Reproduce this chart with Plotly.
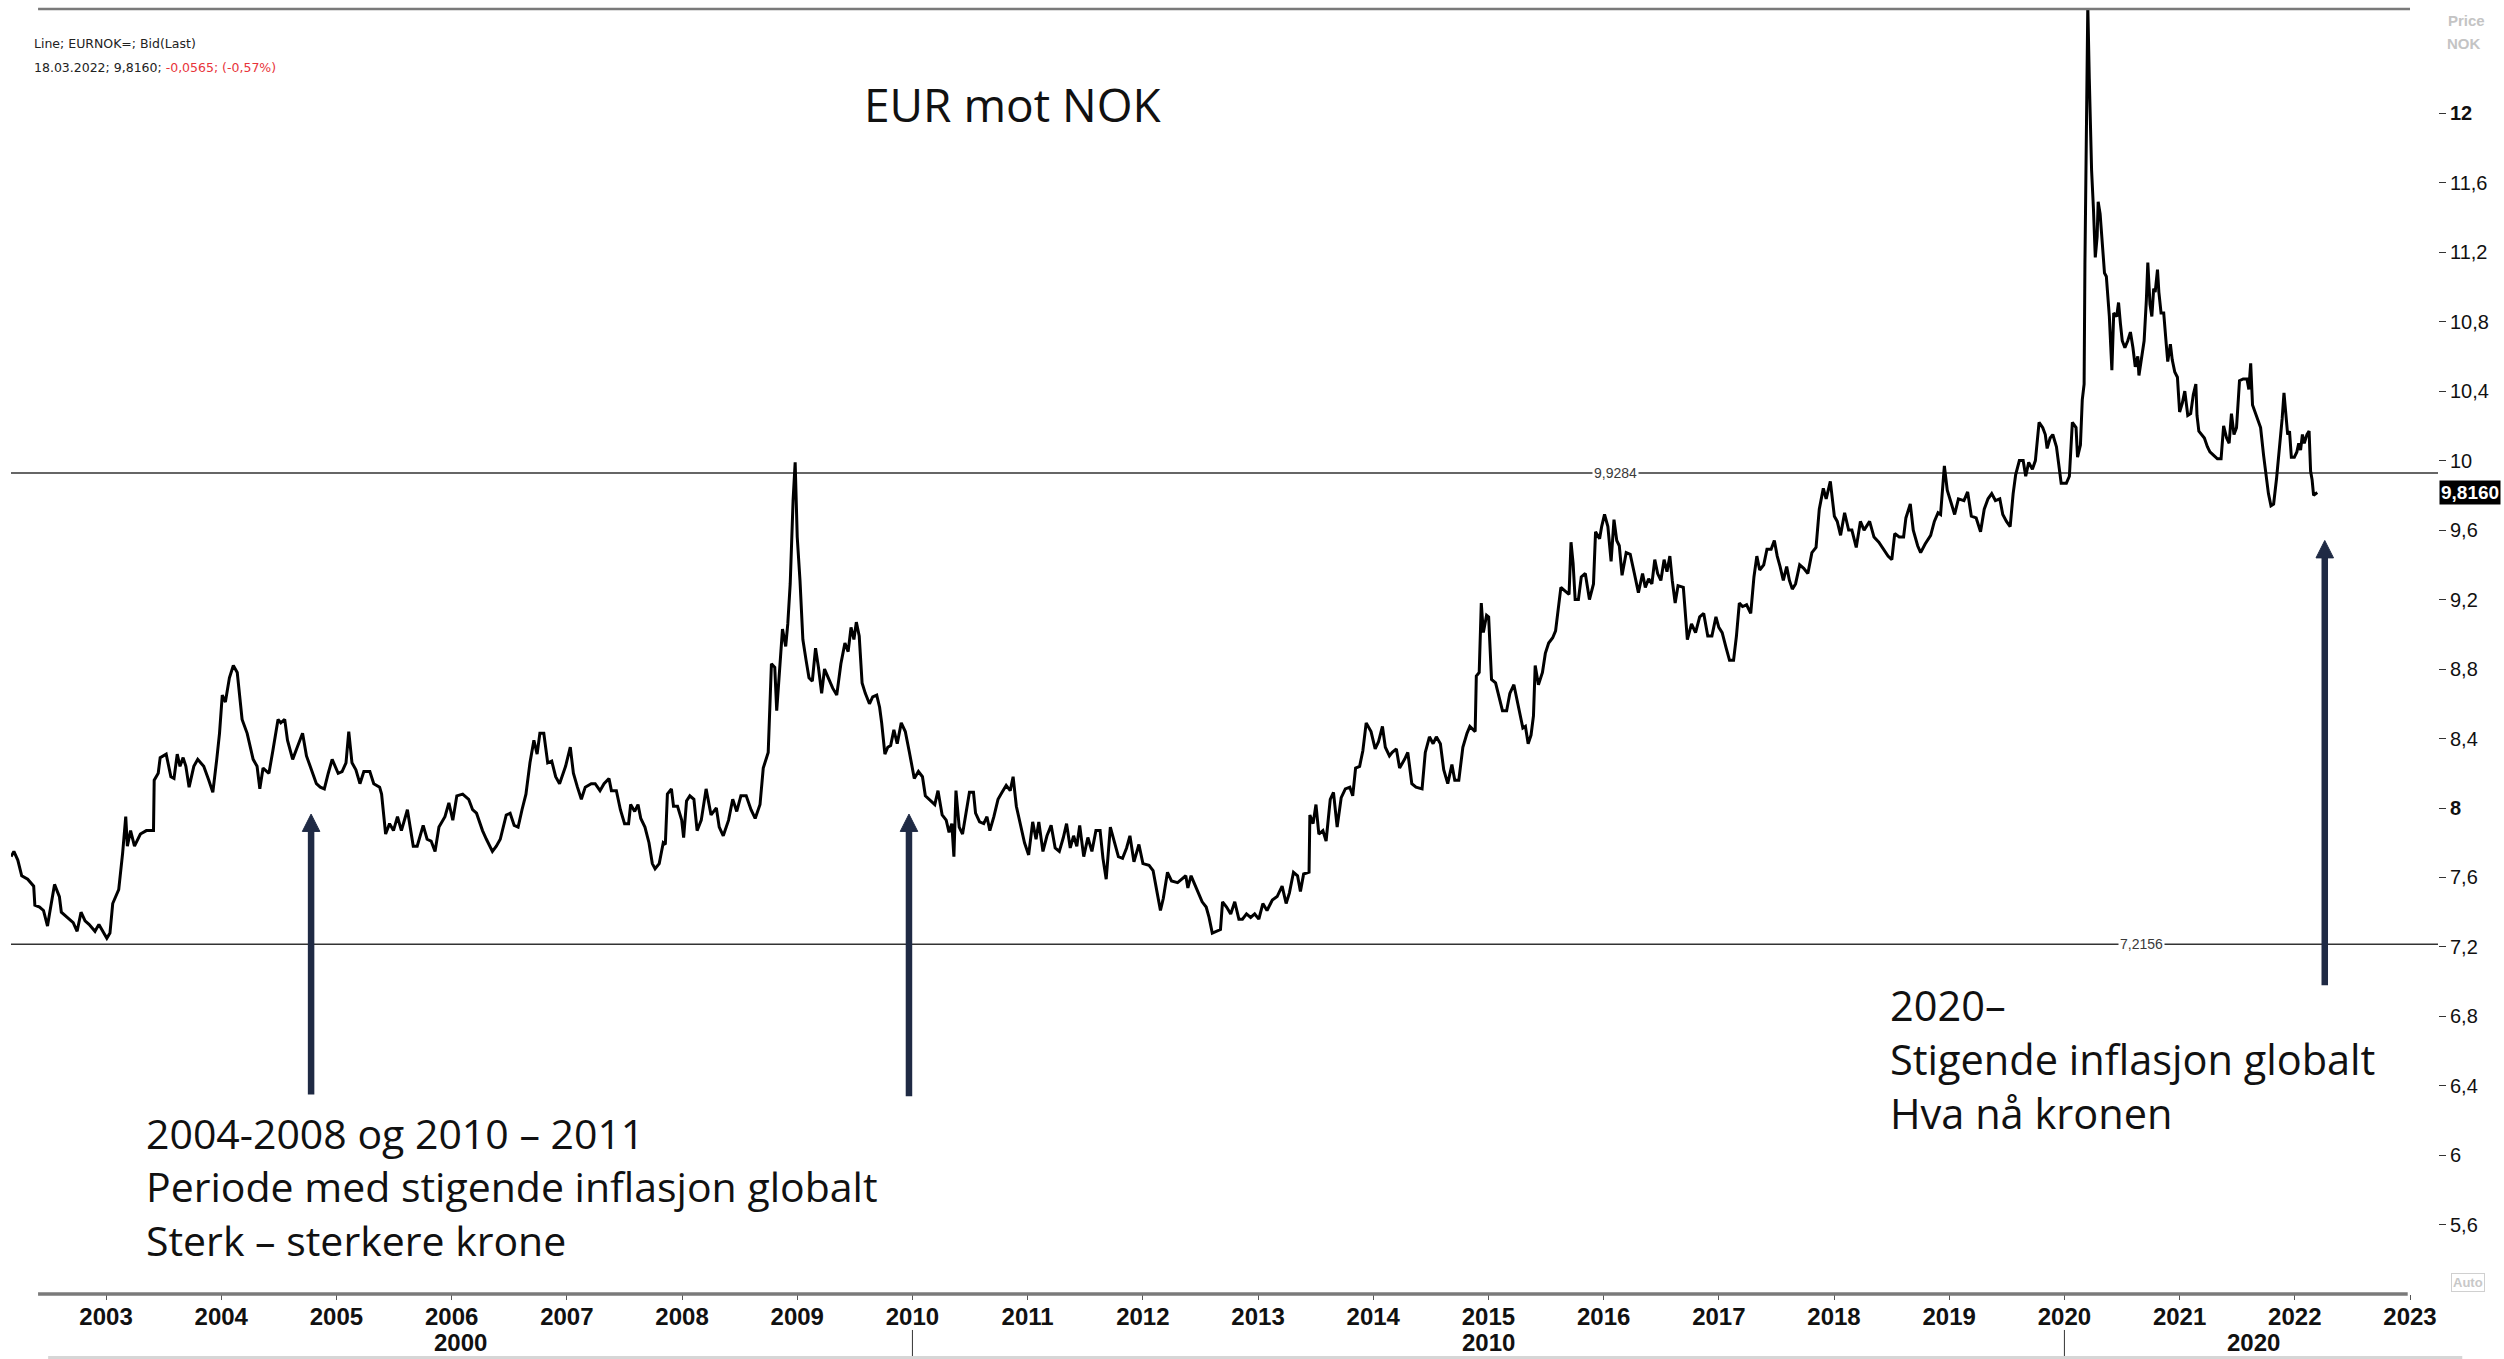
import plotly.graph_objects as go

# ---------------- data (decimal year, EURNOK weekly close) ----------------
t_2002_2007 = [2002.176, 2002.200, 2002.234, 2002.268, 2002.320, 2002.372, 2002.382, 2002.423, 2002.457, 2002.492,
               2002.509, 2002.553, 2002.595, 2002.612, 2002.663, 2002.715, 2002.749, 2002.783, 2002.818, 2002.852,
               2002.904, 2002.938, 2003.007, 2003.034, 2003.058, 2003.110, 2003.144, 2003.171, 2003.185, 2003.213,
               2003.247, 2003.298, 2003.350, 2003.412, 2003.418, 2003.453, 2003.470, 2003.522, 2003.563, 2003.590,
               2003.618, 2003.642, 2003.669, 2003.693, 2003.721, 2003.762, 2003.796, 2003.848, 2003.892, 2003.927,
               2003.961, 2003.985, 2004.009, 2004.036, 2004.071, 2004.105, 2004.139, 2004.181, 2004.225, 2004.277,
               2004.311, 2004.335, 2004.363, 2004.414, 2004.448, 2004.493, 2004.517, 2004.551, 2004.575, 2004.620,
               2004.654, 2004.706, 2004.740, 2004.792, 2004.826, 2004.860, 2004.895, 2004.929, 2004.963, 2005.015,
               2005.049, 2005.083, 2005.107, 2005.135, 2005.169, 2005.204, 2005.238, 2005.290, 2005.324, 2005.375,
               2005.392, 2005.427, 2005.461, 2005.495, 2005.530, 2005.564, 2005.616, 2005.667, 2005.701, 2005.753,
               2005.787, 2005.822, 2005.856, 2005.890, 2005.942, 2005.976, 2006.010, 2006.045, 2006.096, 2006.148,
               2006.182, 2006.216, 2006.268, 2006.302, 2006.354, 2006.388, 2006.422, 2006.474, 2006.508, 2006.543,
               2006.577, 2006.611, 2006.645, 2006.680, 2006.714, 2006.742, 2006.766, 2006.800, 2006.834, 2006.869,
               2006.903, 2006.937, 2006.989, 2007.030, 2007.057, 2007.092, 2007.126, 2007.160, 2007.212, 2007.246]
v_2002_2007 = [7.72, 7.75, 7.70, 7.61, 7.59, 7.55, 7.44, 7.43, 7.41, 7.32,
               7.39, 7.56, 7.49, 7.40, 7.37, 7.34, 7.29, 7.40, 7.35, 7.33,
               7.29, 7.33, 7.25, 7.28, 7.45, 7.53, 7.74, 7.95, 7.78, 7.87,
               7.78, 7.85, 7.87, 7.87, 8.16, 8.20, 8.29, 8.31, 8.18, 8.17,
               8.31, 8.24, 8.29, 8.24, 8.12, 8.24, 8.28, 8.24, 8.16, 8.09,
               8.28, 8.43, 8.65, 8.61, 8.75, 8.82, 8.78, 8.51, 8.43, 8.28,
               8.24, 8.11, 8.23, 8.20, 8.33, 8.51, 8.49, 8.51, 8.39, 8.28,
               8.34, 8.43, 8.30, 8.20, 8.14, 8.12, 8.11, 8.20, 8.28, 8.20,
               8.21, 8.26, 8.44, 8.26, 8.22, 8.14, 8.21, 8.21, 8.14, 8.12,
               8.08, 7.85, 7.91, 7.87, 7.95, 7.87, 7.99, 7.78, 7.78, 7.90,
               7.82, 7.81, 7.75, 7.89, 7.95, 8.03, 7.93, 8.07, 8.08, 8.05,
               7.99, 7.97, 7.87, 7.82, 7.75, 7.78, 7.82, 7.96, 7.97, 7.90,
               7.89, 7.99, 8.08, 8.26, 8.39, 8.31, 8.43, 8.43, 8.26, 8.27,
               8.18, 8.14, 8.24, 8.35, 8.20, 8.12, 8.05, 8.12, 8.14, 8.14]

t_2007_2012 = [2007.288, 2007.323, 2007.366, 2007.387, 2007.430, 2007.465, 2007.501, 2007.536, 2007.554, 2007.589,
               2007.618, 2007.642, 2007.678, 2007.713, 2007.742, 2007.766, 2007.802, 2007.837, 2007.855, 2007.873,
               2007.908, 2007.926, 2007.961, 2007.997, 2008.014, 2008.039, 2008.068, 2008.103, 2008.131, 2008.167,
               2008.209, 2008.252, 2008.298, 2008.323, 2008.358, 2008.404, 2008.440, 2008.475, 2008.511, 2008.557,
               2008.599, 2008.635, 2008.677, 2008.705, 2008.748, 2008.776, 2008.805, 2008.822, 2008.847, 2008.872,
               2008.900, 2008.918, 2008.939, 2008.964, 2008.982, 2009.000, 2009.024, 2009.049, 2009.077, 2009.102,
               2009.131, 2009.159, 2009.184, 2009.212, 2009.237, 2009.272, 2009.308, 2009.343, 2009.379, 2009.414,
               2009.442, 2009.467, 2009.492, 2009.513, 2009.538, 2009.563, 2009.591, 2009.627, 2009.655, 2009.690,
               2009.715, 2009.733, 2009.761, 2009.786, 2009.811, 2009.839, 2009.868, 2009.903, 2009.938, 2009.974,
               2010.016, 2010.052, 2010.087, 2010.112, 2010.158, 2010.194, 2010.222, 2010.258, 2010.293, 2010.318,
               2010.342, 2010.360, 2010.378, 2010.406, 2010.435, 2010.467, 2010.495, 2010.530, 2010.548, 2010.583,
               2010.619, 2010.647, 2010.672, 2010.707, 2010.743, 2010.778, 2010.814, 2010.849, 2010.874, 2010.902,
               2010.938, 2010.973, 2011.009, 2011.044, 2011.073, 2011.097, 2011.133, 2011.168, 2011.204, 2011.239,
               2011.275, 2011.310, 2011.338, 2011.370, 2011.399, 2011.427, 2011.452, 2011.487, 2011.523, 2011.558,
               2011.593, 2011.629, 2011.654, 2011.682, 2011.718, 2011.753, 2011.788, 2011.824, 2011.859, 2011.888,
               2011.923, 2011.966, 2012.001, 2012.054, 2012.089, 2012.125, 2012.153, 2012.178, 2012.214, 2012.249,
               2012.302, 2012.338, 2012.373, 2012.391, 2012.419, 2012.444, 2012.479, 2012.515, 2012.550, 2012.575,
               2012.603, 2012.639, 2012.674, 2012.692, 2012.727, 2012.763, 2012.798, 2012.834]
v_2007_2012 = [8.10, 8.14, 8.17, 8.10, 8.10, 7.99, 7.91, 7.91, 8.02, 7.98,
               8.02, 7.94, 7.89, 7.80, 7.68, 7.65, 7.68, 7.80, 7.79, 8.08,
               8.11, 8.01, 8.01, 7.93, 7.83, 8.04, 8.07, 8.05, 7.87, 7.93,
               8.11, 7.96, 8.00, 7.89, 7.84, 7.93, 8.05, 7.98, 8.07, 8.07,
               7.99, 7.94, 8.02, 8.23, 8.32, 8.83, 8.81, 8.56, 8.78, 9.03,
               8.93, 9.06, 9.29, 9.77, 9.99, 9.56, 9.31, 8.97, 8.85, 8.75,
               8.73, 8.92, 8.81, 8.66, 8.80, 8.74, 8.69, 8.65, 8.83, 8.95,
               8.90, 9.04, 8.97, 9.07, 8.99, 8.72, 8.66, 8.60, 8.64, 8.65,
               8.58, 8.49, 8.31, 8.35, 8.36, 8.45, 8.37, 8.49, 8.44, 8.32,
               8.17, 8.21, 8.18, 8.07, 8.04, 8.02, 8.10, 7.96, 7.93, 7.86,
               7.91, 7.72, 8.10, 7.89, 7.85, 7.97, 8.09, 8.09, 7.97, 7.92,
               7.91, 7.95, 7.87, 7.95, 8.05, 8.09, 8.13, 8.10, 8.18, 8.01,
               7.91, 7.80, 7.73, 7.92, 7.82, 7.92, 7.75, 7.84, 7.90, 7.77,
               7.75, 7.83, 7.91, 7.77, 7.84, 7.78, 7.90, 7.72, 7.83, 7.75,
               7.87, 7.87, 7.71, 7.59, 7.89, 7.80, 7.72, 7.71, 7.77, 7.84,
               7.69, 7.79, 7.68, 7.67, 7.64, 7.51, 7.41, 7.48, 7.63, 7.58,
               7.57, 7.59, 7.61, 7.54, 7.61, 7.57, 7.51, 7.46, 7.43, 7.37,
               7.28, 7.29, 7.30, 7.46, 7.43, 7.39, 7.46, 7.36]

t_2012_2018 = [2012.865, 2012.900, 2012.936, 2012.971, 2013.007, 2013.042, 2013.078, 2013.124, 2013.166, 2013.209,
               2013.244, 2013.272, 2013.308, 2013.343, 2013.368, 2013.396, 2013.443, 2013.450, 2013.478, 2013.503,
               2013.528, 2013.563, 2013.591, 2013.627, 2013.655, 2013.687, 2013.722, 2013.758, 2013.797, 2013.822,
               2013.847, 2013.882, 2013.910, 2013.939, 2013.981, 2014.017, 2014.045, 2014.080, 2014.105, 2014.141,
               2014.165, 2014.201, 2014.229, 2014.272, 2014.300, 2014.335, 2014.371, 2014.424, 2014.452, 2014.488,
               2014.520, 2014.548, 2014.583, 2014.612, 2014.647, 2014.683, 2014.708, 2014.743, 2014.778, 2014.814,
               2014.839, 2014.885, 2014.895, 2014.920, 2014.938, 2014.956, 2014.984, 2015.002, 2015.027, 2015.062,
               2015.097, 2015.122, 2015.158, 2015.186, 2015.221, 2015.250, 2015.275, 2015.299, 2015.321, 2015.345,
               2015.370, 2015.391, 2015.406, 2015.434, 2015.469, 2015.494, 2015.523, 2015.558, 2015.583, 2015.604,
               2015.629, 2015.664, 2015.700, 2015.717, 2015.735, 2015.753, 2015.781, 2015.806, 2015.841, 2015.877,
               2015.912, 2015.930, 2015.965, 2015.983, 2016.008, 2016.037, 2016.065, 2016.090, 2016.114, 2016.136,
               2016.160, 2016.196, 2016.231, 2016.267, 2016.302, 2016.338, 2016.362, 2016.391, 2016.419, 2016.444,
               2016.469, 2016.497, 2016.525, 2016.550, 2016.575, 2016.596, 2016.621, 2016.646, 2016.692, 2016.727,
               2016.763, 2016.798, 2016.834, 2016.869, 2016.904, 2016.940, 2016.975, 2017.000, 2017.029, 2017.064,
               2017.093, 2017.128, 2017.153, 2017.178, 2017.206, 2017.241, 2017.277, 2017.305, 2017.330, 2017.355,
               2017.390, 2017.418, 2017.454, 2017.482, 2017.507, 2017.532, 2017.560, 2017.589, 2017.613, 2017.638,
               2017.666, 2017.702, 2017.737, 2017.773, 2017.808, 2017.844, 2017.872, 2017.907, 2017.932, 2017.968,
               2018.003, 2018.028, 2018.057, 2018.092, 2018.127]
v_2012_2018 = [7.36, 7.39, 7.37, 7.39, 7.36, 7.45, 7.41, 7.47, 7.49, 7.55,
               7.45, 7.51, 7.63, 7.61, 7.52, 7.62, 7.63, 7.96, 7.91, 8.02,
               7.85, 7.87, 7.81, 8.05, 8.09, 7.89, 8.06, 8.11, 8.12, 8.07,
               8.23, 8.24, 8.33, 8.49, 8.44, 8.34, 8.38, 8.47, 8.35, 8.30,
               8.32, 8.34, 8.23, 8.28, 8.32, 8.14, 8.12, 8.11, 8.32, 8.41,
               8.37, 8.41, 8.37, 8.22, 8.14, 8.25, 8.16, 8.16, 8.35, 8.43,
               8.47, 8.44, 8.76, 8.78, 9.18, 9.01, 9.11, 9.10, 8.74, 8.72,
               8.62, 8.56, 8.56, 8.66, 8.71, 8.62, 8.53, 8.46, 8.47, 8.37,
               8.42, 8.53, 8.82, 8.71, 8.78, 8.89, 8.95, 8.98, 9.02, 9.12,
               9.27, 9.25, 9.23, 9.53, 9.41, 9.20, 9.20, 9.33, 9.35, 9.20,
               9.29, 9.59, 9.55, 9.62, 9.69, 9.62, 9.42, 9.66, 9.54, 9.51,
               9.34, 9.47, 9.46, 9.35, 9.24, 9.35, 9.27, 9.32, 9.29, 9.43,
               9.35, 9.31, 9.43, 9.36, 9.45, 9.31, 9.18, 9.28, 9.27, 8.97,
               9.06, 9.01, 9.10, 9.12, 8.99, 8.99, 9.10, 9.04, 9.01, 8.92,
               8.85, 8.85, 8.99, 9.18, 9.16, 9.17, 9.12, 9.33, 9.45, 9.37,
               9.40, 9.49, 9.49, 9.54, 9.45, 9.39, 9.31, 9.39, 9.31, 9.26,
               9.29, 9.40, 9.38, 9.35, 9.47, 9.50, 9.72, 9.84, 9.78, 9.88,
               9.68, 9.65, 9.57, 9.70, 9.60]

t_2018_2022 = [2018.155, 2018.193, 2018.229, 2018.261, 2018.309, 2018.347, 2018.389, 2018.431, 2018.469, 2018.502,
               2018.527, 2018.566, 2018.604, 2018.624, 2018.662, 2018.688, 2018.726, 2018.752, 2018.791, 2018.839,
               2018.871, 2018.903, 2018.925, 2018.958, 2018.983, 2019.015, 2019.047, 2019.080, 2019.128, 2019.160,
               2019.192, 2019.234, 2019.272, 2019.304, 2019.337, 2019.369, 2019.401, 2019.439, 2019.465, 2019.497,
               2019.529, 2019.555, 2019.577, 2019.609, 2019.642, 2019.664, 2019.690, 2019.722, 2019.748, 2019.780,
               2019.812, 2019.834, 2019.850, 2019.876, 2019.899, 2019.931, 2019.953, 2019.972, 2020.017, 2020.043,
               2020.069, 2020.101, 2020.114, 2020.139, 2020.155, 2020.171, 2020.178, 2020.191, 2020.203, 2020.216,
               2020.226, 2020.236, 2020.252, 2020.268, 2020.284, 2020.293, 2020.310, 2020.332, 2020.348, 2020.364,
               2020.390, 2020.412, 2020.428, 2020.454, 2020.470, 2020.486, 2020.502, 2020.525, 2020.550, 2020.573,
               2020.595, 2020.615, 2020.637, 2020.647, 2020.669, 2020.692, 2020.711, 2020.724, 2020.743, 2020.759,
               2020.775, 2020.788, 2020.808, 2020.820, 2020.839, 2020.862, 2020.884, 2020.897, 2020.920, 2020.936,
               2020.958, 2020.981, 2021.000, 2021.023, 2021.045, 2021.071, 2021.096, 2021.119, 2021.141, 2021.151,
               2021.167, 2021.193, 2021.215, 2021.241, 2021.263, 2021.296, 2021.328, 2021.360, 2021.382, 2021.408,
               2021.430, 2021.450, 2021.472, 2021.494, 2021.520, 2021.552, 2021.585, 2021.601, 2021.617, 2021.633,
               2021.655, 2021.681, 2021.703, 2021.729, 2021.745, 2021.771, 2021.793, 2021.816, 2021.842, 2021.867,
               2021.890, 2021.906, 2021.922, 2021.938, 2021.954, 2021.970, 2021.996, 2022.018, 2022.034, 2022.050,
               2022.066, 2022.082, 2022.105, 2022.124, 2022.137, 2022.150, 2022.163, 2022.179, 2022.195]
v_2018_2022 = [9.60, 9.50, 9.65, 9.60, 9.65, 9.56, 9.53, 9.49, 9.45, 9.43,
               9.58, 9.56, 9.56, 9.67, 9.75, 9.60, 9.51, 9.47, 9.52, 9.57,
               9.65, 9.70, 9.69, 9.97, 9.83, 9.76, 9.69, 9.78, 9.77, 9.82,
               9.68, 9.67, 9.59, 9.72, 9.78, 9.81, 9.77, 9.78, 9.69, 9.65,
               9.62, 9.81, 9.92, 10.00, 10.00, 9.91, 9.99, 9.95, 10.00, 10.22,
               10.19, 10.15, 10.07, 10.13, 10.15, 10.08, 9.95, 9.87, 9.87, 9.91,
               10.22, 10.19, 10.02, 10.09, 10.35, 10.44, 11.13, 11.90, 12.62, 12.20,
               11.90, 11.67, 11.45, 11.17, 11.29, 11.49, 11.42, 11.24, 11.08, 11.06,
               10.83, 10.52, 10.85, 10.83, 10.91, 10.79, 10.69, 10.65, 10.69, 10.74,
               10.65, 10.54, 10.60, 10.49, 10.58, 10.69, 10.92, 11.14, 10.90, 10.83,
               10.99, 10.97, 11.10, 10.97, 10.85, 10.85, 10.67, 10.57, 10.67, 10.58,
               10.51, 10.48, 10.28, 10.33, 10.40, 10.26, 10.27, 10.38, 10.44, 10.26,
               10.17, 10.15, 10.13, 10.08, 10.05, 10.03, 10.01, 10.01, 10.20, 10.13,
               10.10, 10.27, 10.15, 10.19, 10.46, 10.47, 10.47, 10.41, 10.56, 10.32,
               10.28, 10.24, 10.19, 10.03, 9.94, 9.81, 9.74, 9.75, 9.90, 10.06,
               10.24, 10.39, 10.24, 10.15, 10.17, 10.02, 10.02, 10.05, 10.10, 10.06,
               10.15, 10.10, 10.15, 10.17, 9.94, 9.89, 9.80, 9.81, 9.816]

x_dates = t_2002_2007 + t_2007_2012 + t_2012_2018 + t_2018_2022
y_vals = v_2002_2007 + v_2007_2012 + v_2012_2018 + v_2018_2022

year_ticks = list(range(2003, 2024))
year_labels = [str(y) for y in year_ticks]
decade_labels = ["2000", "2010", "2020"]
decade_pos = [2006.08, 2015.0, 2021.64]
decade_breaks = [2010, 2020]

price_ticks = [12, 11.6, 11.2, 10.8, 10.4, 10, 9.6, 9.2, 8.8, 8.4, 8, 7.6, 7.2, 6.8, 6.4, 6, 5.6]
price_labels = ["<b>12</b>", "11,6", "11,2", "10,8", "10,4", "10", "9,6", "9,2", "8,8", "8,4",
                "<b>8</b>", "7,6", "7,2", "6,8", "6,4", "6", "5,6"]

ref_levels = [9.9284, 7.2156]
ref_labels = ["9,9284", "7,2156"]
ref_label_x = [2016.10, 2020.67]

last_value_label = "9,8160"
last_value = 9.816

# arrows: x, tail value, tip value
arrow_x = [2004.78, 2009.97, 2022.26]
arrow_tail = [6.35, 6.34, 6.98]
arrow_tip = [7.965, 7.965, 9.54]

left_lines = ["2004-2008 og 2010 – 2011", "Periode med stigende inflasjon globalt", "Sterk – sterkere krone"]
right_lines = ["2020–", "Stigende inflasjon globalt", "Hva nå kronen"]

# ---------------- figure ----------------
W, H = 2504, 1359
L, R, T, B = 11, 66, 9, 65
X0, X1 = 2002.175, 2023.243
Y0, Y1 = 5.202, 12.60

fig = go.Figure()
fig.add_trace(go.Scatter(x=x_dates, y=y_vals, mode="lines",
                         line=dict(color="#000000", width=3), hoverinfo="skip",
                         showlegend=False))

NAVY = "#1f2a44"
TEXT_FONT = "Open Sans"
shapes = []
for lv in ref_levels:
    shapes.append(dict(type="line", xref="paper", yref="y", x0=0, x1=1, y0=lv, y1=lv,
                       line=dict(color="#333333", width=1.6), layer="below"))
shapes.append(dict(type="line", xref="x", yref="paper", x0=2002.41, x1=2023.0, y0=1, y1=1,
                   line=dict(color="#7a7a7a", width=2.5)))
shapes.append(dict(type="line", xref="x", yref="paper", x0=2002.41, x1=2022.98, y0=0, y1=0,
                   line=dict(color="#7a7a7a", width=3.5)))
for d in decade_breaks:
    shapes.append(dict(type="line", xref="x", yref="paper", x0=d, x1=d, y0=-0.028, y1=-0.05,
                       line=dict(color="#333333", width=1)))
shapes.append(dict(type="line", xref="paper", yref="paper", x0=0.0153, x1=1.0100, y0=-0.0495, y1=-0.0495,
                   line=dict(color="#d6d6d6", width=3)))
hw = 0.076
hl = 0.10
for ax_, t0, t1 in zip(arrow_x, arrow_tail, arrow_tip):
    shapes.append(dict(type="line", xref="x", yref="y", x0=ax_, x1=ax_, y0=t0, y1=t1 - hl + 0.01,
                       line=dict(color=NAVY, width=6.5)))
    shapes.append(dict(type="path", xref="x", yref="y",
                       path=f"M {ax_-hw},{t1-hl} L {ax_},{t1} L {ax_+hw},{t1-hl} Z",
                       fillcolor=NAVY, line=dict(color=NAVY, width=1)))

annotations = []
for lab, lx, lv in zip(ref_labels, ref_label_x, ref_levels):
    annotations.append(dict(x=lx, y=lv, xref="x", yref="y", text=lab, showarrow=False,
                            bgcolor="white", borderpad=1,
                            font=dict(family="Liberation Sans", size=14, color="#3a3a3a")))
annotations.append(dict(x=0.4128, y=0.9261, xref="paper", yref="paper", text="EUR mot NOK",
                        showarrow=False, xanchor="center", yanchor="middle",
                        font=dict(family=TEXT_FONT, size=46, color="#111111")))
annotations.append(dict(x=0.0548, y=0.0833, xref="paper", yref="paper", text="<br>".join(left_lines),
                        showarrow=False, xanchor="left", yanchor="middle", align="left",
                        font=dict(family=TEXT_FONT, size=41, color="#111111")))
annotations.append(dict(x=0.7734, y=0.1829, xref="paper", yref="paper", text="<br>".join(right_lines),
                        showarrow=False, xanchor="left", yanchor="middle", align="left",
                        font=dict(family=TEXT_FONT, size=41.5, color="#111111")))
annotations.append(dict(x=0.0087, y=0.9728, xref="paper", yref="paper", text="Line; EURNOK=; Bid(Last)",
                        showarrow=False, xanchor="left", yanchor="middle",
                        font=dict(family="DejaVu Sans", size=12.5, color="#222222")))
annotations.append(dict(x=0.0087, y=0.9541, xref="paper", yref="paper",
                        text="18.03.2022; 9,8160; <span style='color:#e8343a'>-0,0565; (-0,57%)</span>",
                        showarrow=False, xanchor="left", yanchor="middle",
                        font=dict(family="DejaVu Sans", size=12.5, color="#222222")))
for lab, pos in zip(decade_labels, decade_pos):
    annotations.append(dict(x=pos, y=-0.0381, xref="x", yref="paper", text=f"<b>{lab}</b>",
                            showarrow=False, xanchor="center", yanchor="middle",
                            font=dict(family="Liberation Sans", size=24, color="#111111")))
annotations.append(dict(x=1.0005, y=last_value, xref="paper", yref="y", text=f"<b>{last_value_label}</b>",
                        showarrow=False, xanchor="left", yanchor="middle", bgcolor="#000000",
                        borderpad=1, font=dict(family="Liberation Sans", size=19, color="#ffffff")))
annotations.append(dict(x=1.0033, y=0.9907, xref="paper", yref="paper", text="<b>Price</b>",
                        showarrow=False, xanchor="left", yanchor="middle",
                        font=dict(family="Liberation Sans", size=15, color="#c4c4c4")))
annotations.append(dict(x=1.0029, y=0.9735, xref="paper", yref="paper", text="<b>NOK</b>",
                        showarrow=False, xanchor="left", yanchor="middle",
                        font=dict(family="Liberation Sans", size=15, color="#c4c4c4")))
annotations.append(dict(x=1.0124, y=0.0086, xref="paper", yref="paper", text="<b>Auto</b>",
                        showarrow=False, xanchor="center", yanchor="middle",
                        bordercolor="#d0d0d0", borderwidth=1, borderpad=1,
                        font=dict(family="Liberation Sans", size=13, color="#c8c8c8")))

fig.update_layout(
    width=W, height=H,
    margin=dict(l=L, r=R, t=T, b=B),
    paper_bgcolor="white", plot_bgcolor="white",
    shapes=shapes, annotations=annotations,
    xaxis=dict(range=[X0, X1], tickmode="array", tickvals=year_ticks, ticktext=[f"<b>{s}</b>" for s in year_labels],
               showgrid=False, zeroline=False, showline=False,
               ticks="outside", ticklen=5, tickcolor="#555555", tickwidth=1,
               ticklabelstandoff=-4,
               tickfont=dict(family="Liberation Sans", size=24, color="#111111")),
    yaxis=dict(range=[Y0, Y1], side="right", tickmode="array", tickvals=price_ticks, ticktext=price_labels,
               showgrid=False, zeroline=False, showline=False,
               ticks="outside", ticklen=7, tickcolor="#333333", tickwidth=1.2,
               tickfont=dict(family="Liberation Sans", size=20, color="#111111")),
    showlegend=False,
)

fig.write_html("out.html", config={"displayModeBar": False},
               post_script="document.body.style.margin='0px';document.body.style.overflow='hidden';")
